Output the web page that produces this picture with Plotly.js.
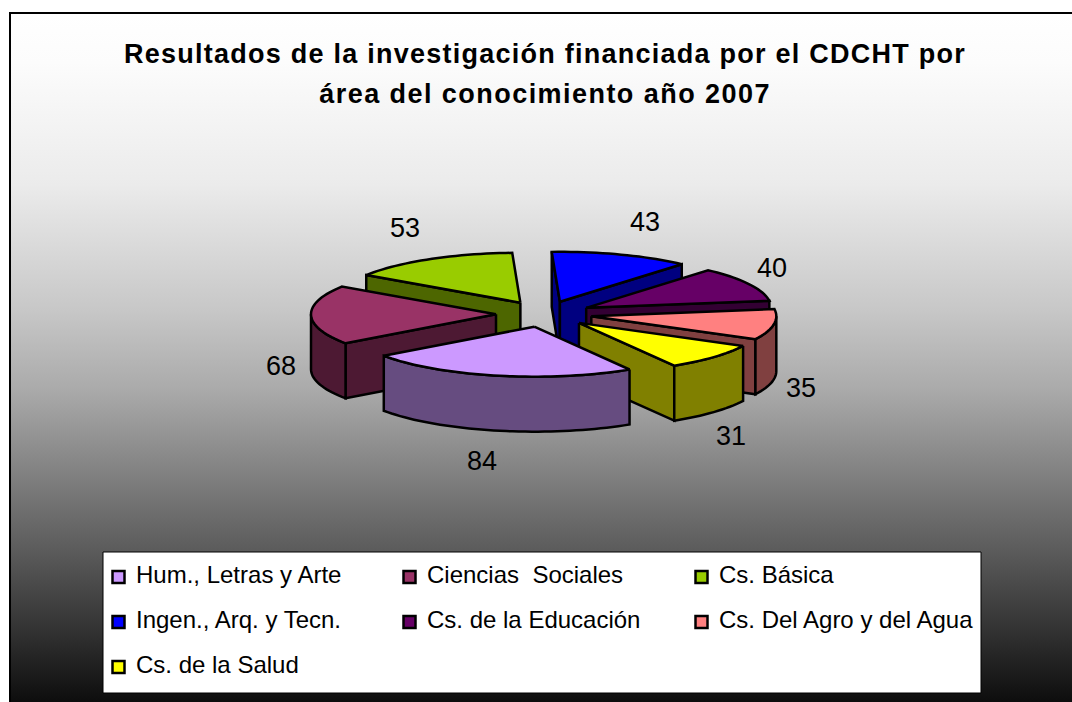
<!DOCTYPE html>
<html>
<head>
<meta charset="utf-8">
<script src="https://cdn.plot.ly/plotly-3.0.1.min.js"></script>
<style>
html,body{margin:0;padding:0;background:#fff;overflow:hidden}
#frame{position:absolute;left:0;top:0;width:1072px;height:702px;background:#fff}
#grad{position:absolute;left:9px;top:12px;width:1063px;height:690px;box-sizing:border-box;
 border-left:2px solid #000;border-top:2px solid #000;
 background:linear-gradient(to bottom,#ffffff 0px,#fcfcfc 48px,#ebebeb 171px,#c8c8c8 294px,#aaaaaa 376px,#828282 457px,#5a5a5a 539px,#303030 621px,#0c0c0c 690px);}
#chart{position:absolute;left:0;top:0;width:1072px;height:702px}
.gtitle{letter-spacing:1.25px}
.annotation[data-index="14"] text{letter-spacing:1.45px}
</style>
</head>
<body>
<div id="frame"><div id="grad"></div><div id="chart"></div></div>
<script>
// ---------- data ----------
const categories = ["Hum., Letras y Arte","Ciencias\u00a0 Sociales","Cs. Básica","Ingen., Arq. y Tecn.","Cs. de la Educación","Cs. Del Agro y del Agua","Cs. de la Salud"];
const values = [84,68,53,43,40,35,31];
const topColors = ["#CC99FF","#993366","#99CC00","#0000FF","#660066","#FF8080","#FFFF00"];
const wallColors = ["#664C80","#4D1933","#4D6600","#000080","#330033","#804040","#808000"];
const titleLines = ["Resultados de la investigación financiada por el CDCHT por","área del conocimiento año 2007"];
// ---------- pseudo-3D projection of the pie ----------
const view = {cx:544, cy:314, r:185, tilt:0.27, depth:55, explode:48, start:59};
const labelX = [482,281,405,645,772,801,731];
const labelY = [461,366,228,222,268,388,436];
const legendCols = [111,402,694];
const legendRows = [577,622,667];

const rad = d => d*Math.PI/180;
const total = values.reduce((a,b)=>a+b,0);
let cum = view.start;
const slices = values.map((v,i)=>{
  const a0 = cum, a1 = cum + v/total*360; cum = a1;
  const mid = (a0+a1)/2;
  const ax = view.cx + view.explode*Math.cos(rad(mid));
  const ay = view.cy + view.explode*Math.sin(rad(mid))*view.tilt;
  return {i,a0,a1,mid,ax,ay};
});
const rim = (s,a,dy=0)=>[s.ax+view.r*Math.cos(rad(a)), s.ay+view.r*view.tilt*Math.sin(rad(a))+dy];
const arcPts = (s,a0,a1,dy=0)=>{
  const n = Math.max(2,Math.ceil((a1-a0)/2)), out=[];
  for(let k=0;k<=n;k++) out.push(rim(s,a0+(a1-a0)*k/n,dy));
  return out;
};
const poly = (pts,color)=>({
  type:"scatter",mode:"lines",x:pts.map(p=>p[0]).concat(pts[0][0]),y:pts.map(p=>p[1]).concat(pts[0][1]),
  fill:"toself",fillcolor:color,line:{color:"#000",width:2.5,simplify:false},hoverinfo:"skip",showlegend:false
});
const traces = [];
slices.slice().sort((a,b)=>Math.sin(rad(a.mid))-Math.sin(rad(b.mid))).forEach(s=>{
  const wall = wallColors[s.i], d = view.depth;
  const radial = a=>{
    const p=rim(s,a);
    traces.push(poly([[s.ax,s.ay],p,[p[0],p[1]+d],[s.ax,s.ay+d]],wall));
  };
  if(Math.cos(rad(s.a0))<0) radial(s.a0);
  if(Math.cos(rad(s.a1))>0) radial(s.a1);
  [[0,180],[360,540]].forEach(([lo,hi])=>{
    const a0=Math.max(s.a0,lo), a1=Math.min(s.a1,hi);
    if(a1>a0) traces.push(poly(arcPts(s,a0,a1).concat(arcPts(s,a0,a1,d).reverse()),wall));
  });
  traces.push(poly([[s.ax,s.ay]].concat(arcPts(s,s.a0,s.a1)),topColors[s.i]));
});
// legend swatches
const legX = categories.map((c,i)=>legendCols[i%3]+7.5);
const legY = categories.map((c,i)=>legendRows[Math.floor(i/3)]);
traces.push({type:"scatter",mode:"markers",x:legX,y:legY,hoverinfo:"skip",showlegend:false,
  marker:{symbol:"square",size:12,color:topColors,line:{color:"#000",width:2.5}}});

const annotations = values.map((v,i)=>({x:labelX[i],y:labelY[i],text:String(v),showarrow:false,
  xanchor:"center",yanchor:"middle",font:{family:"Liberation Sans",size:27,color:"#000"}}));
categories.forEach((c,i)=>annotations.push({x:legendCols[i%3]+23,y:legendRows[Math.floor(i/3)]-3,text:c,showarrow:false,
  xanchor:"left",yanchor:"middle",font:{family:"Liberation Sans",size:24,color:"#000"}}));
annotations.push({x:545,y:94,text:titleLines[1],showarrow:false,xanchor:"center",yanchor:"middle",
  font:{family:"Liberation Sans",size:27,color:"#000",weight:"bold"}});

Plotly.newPlot("chart",traces,{
  width:1072,height:702,margin:{l:0,r:0,t:0,b:0},
  paper_bgcolor:"rgba(0,0,0,0)",plot_bgcolor:"rgba(0,0,0,0)",showlegend:false,
  title:{text:titleLines[0],x:545/1072,xanchor:"center",y:1-54/702,yanchor:"middle",
    font:{family:"Liberation Sans",size:27,color:"#000",weight:"bold"}},
  xaxis:{range:[0,1072],visible:false,fixedrange:true},
  yaxis:{range:[702,0],visible:false,fixedrange:true},
  shapes:[{type:"rect",xref:"x",yref:"y",x0:103,x1:981,y0:552,y1:693,fillcolor:"#fff",line:{color:"#000",width:1},layer:"below"}],
  annotations
},{displayModeBar:false,staticPlot:true});
</script>
</body>
</html>
